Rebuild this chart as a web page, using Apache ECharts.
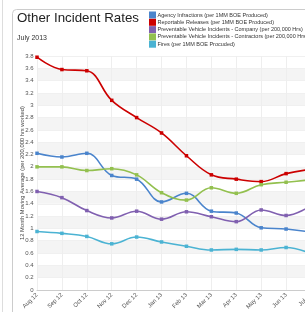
<!DOCTYPE html>
<html>
<head>
<meta charset="utf-8">
<script src="https://cdn.jsdelivr.net/npm/echarts@6/dist/echarts.min.js"></script>
<style>
  html, body { margin: 0; padding: 0; background: #fff; }
  #chart { width: 305px; height: 312px; }
</style>
</head>
<body>
<div id="chart"></div>
<script>
// months on the x axis
var months = ['Aug 12', 'Sep 12', 'Oct 12', 'Nov 12', 'Dec 12', 'Jan 13', 'Feb 13', 'Mar 13', 'Apr 13', 'May 13', 'Jun 13', 'Jul 13'];

// 12 month moving averages
var agencyInfractions = [2.22, 2.16, 2.22, 1.86, 1.80, 1.43, 1.57, 1.28, 1.25, 1.01, 0.99, 0.94];
var reportableReleases = [3.78, 3.58, 3.56, 3.08, 2.80, 2.55, 2.18, 1.87, 1.80, 1.76, 1.89, 1.96];
var vehicleCompany = [1.60, 1.50, 1.29, 1.17, 1.28, 1.15, 1.27, 1.19, 1.11, 1.30, 1.21, 1.37];
var vehicleContractors = [2.00, 2.00, 1.94, 1.97, 1.87, 1.58, 1.46, 1.66, 1.57, 1.71, 1.75, 1.79];
var fires = [0.95, 0.92, 0.87, 0.75, 0.86, 0.78, 0.71, 0.65, 0.66, 0.65, 0.69, 0.59];

var seriesNames = [
    'Agency Infractions (per 1MM BOE Produced)',
    'Reportable Releases (per 1MM BOE Produced)',
    'Preventable Vehicle Incidents - Company (per 200,000 Hrs)',
    'Preventable Vehicle Incidents - Contractors (per 200,000 Hrs)',
    'Fires (per 1MM BOE Procuded)'
];
var seriesData = [agencyInfractions, reportableReleases, vehicleCompany, vehicleContractors, fires];
var colors = ['#4a84cc', '#cc0000', '#8060b0', '#93c04f', '#4bb3d3'];

var font = "'Liberation Sans', Arial, sans-serif";
var chart = echarts.init(document.getElementById('chart'));

var series = [];
for (var i = 0; i < seriesData.length; i++) {
    series.push({
        name: seriesNames[i],
        type: 'line',
        data: seriesData[i],
        smooth: 0.4,
        symbol: 'rect',
        symbolSize: 3.5,
        lineStyle: { width: 1.6, color: colors[i] },
        itemStyle: { color: colors[i] },
        z: 3
    });
}

var option = {
    animation: false,
    color: colors,
    textStyle: { fontFamily: font },
    graphic: [
        // page edge line and the chart box
        { type: 'line', shape: { x1: 2.5, y1: 0, x2: 2.5, y2: 312 }, style: { stroke: '#dddddd', lineWidth: 1 }, z: 0 },
        { type: 'rect', shape: { x: 12.5, y: 9.5, width: 320, height: 330, r: 4 }, style: { fill: '#fff', stroke: '#cccccc', lineWidth: 1 }, z: -1 }
    ],
    title: [{
        text: 'Other Incident Rates',
        left: 17, top: 12,
        padding: 0,
        textStyle: { fontFamily: font, fontSize: 13.3, fontWeight: 'normal', color: '#222' }
    }, {
        text: 'July 2013',
        left: 17, top: 35,
        padding: 0,
        textStyle: { fontFamily: font, fontSize: 7, fontWeight: 'normal', color: '#333' }
    }],
    legend: {
        orient: 'vertical',
        left: 149, top: 11.5,
        padding: 0,
        itemWidth: 7,
        itemHeight: 7,
        itemGap: 0.3,
        icon: 'rect',
        textStyle: { fontFamily: font, fontSize: 5.5, color: '#333', lineHeight: 7, padding: [0, 0, 0, -3.5] },
        data: seriesNames
    },
    // plot runs past the right edge: Jul 13 sits just outside the window
    grid: { left: 37, width: 274, top: 56, height: 234, containLabel: false, outerBoundsMode: 'none' },
    xAxis: {
        type: 'category',
        data: months,
        boundaryGap: false,
        axisLine: { lineStyle: { color: '#cccccc' } },
        axisTick: { show: false },
        splitLine: { show: true, lineStyle: { color: '#eeeeee', width: 1 } },
        axisLabel: { rotate: 45, fontSize: 6, color: '#555', margin: 4, fontFamily: font, interval: 0 }
    },
    yAxis: {
        type: 'value',
        min: 0, max: 3.8, interval: 0.2,
        name: '12 Month Moving Average (per 200,000 hrs worked)',
        nameLocation: 'middle',
        nameGap: 12,
        nameMoveOverlap: false,
        nameTextStyle: { fontSize: 5.8, color: '#444', fontFamily: font },
        axisLine: { show: false },
        axisTick: { show: false },
        axisLabel: { fontSize: 6, color: '#555', margin: 3.5, fontFamily: font },
        splitLine: { show: true, lineStyle: { color: '#f0f0f0', width: 1 } },
        splitArea: { show: true, areaStyle: { color: ['rgba(255,255,255,0)', '#f4f4f4'] } }
    },
    series: series
};

chart.setOption(option);
</script>
</body>
</html>
